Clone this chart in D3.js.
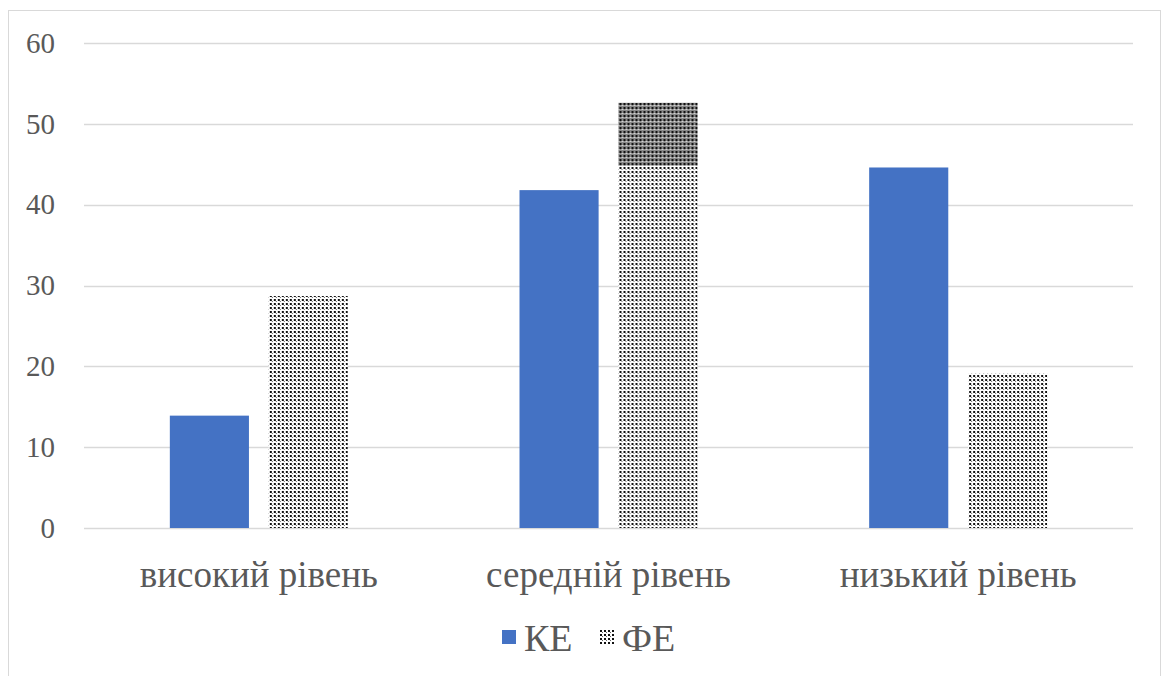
<!DOCTYPE html>
<html>
<head>
<meta charset="utf-8">
<script src="https://cdn.jsdelivr.net/npm/d3@7"></script>
<style>
  body { margin: 0; background: #fff; }
</style>
</head>
<body>
<div id="chart-area"></div>
<script>
// data
var categories = ["високий рівень", "середній рівень", "низький рівень"];
var seriesNames = ["КЕ", "ФЕ"];
var keValues = [13.9, 41.8, 44.6];
var feValues = [28.7, 52.6, 19.1];
// darker overprinted part of the ФЕ bar starts at this value
var feDarkFrom = [null, 44.8, null];
var yTicks = [0, 10, 20, 30, 40, 50, 60];

var textColor = "#595959";

var width = 1163;
var height = 676;
var margin = { left: 84, right: 30, top: 43, bottom: 148 };
var innerW = width - margin.left - margin.right;
var innerH = height - margin.top - margin.bottom;

var svg = d3.select("#chart-area").append("svg")
    .attr("width", width)
    .attr("height", height)
    .attr("font-family", "Liberation Serif");

// patterns
var defs = svg.append("defs");
var dots = defs.append("pattern")
    .attr("id", "dots")
    .attr("patternUnits", "userSpaceOnUse")
    .attr("width", 4).attr("height", 4);
dots.append("rect").attr("width", 4).attr("height", 4).attr("fill", "#fff");
dots.append("rect").attr("x", 0).attr("y", 0).attr("width", 2).attr("height", 2).attr("fill", "#111");
dots.append("rect").attr("x", 2).attr("y", 2).attr("width", 1).attr("height", 1).attr("fill", "#666");

var darkDots = defs.append("pattern")
    .attr("id", "darkdots")
    .attr("patternUnits", "userSpaceOnUse")
    .attr("width", 4).attr("height", 4);
darkDots.append("rect").attr("width", 4).attr("height", 4).attr("fill", "#8a8a8a");
darkDots.append("rect").attr("x", 0).attr("y", 0).attr("width", 2).attr("height", 2).attr("fill", "#111");
darkDots.append("rect").attr("x", 2).attr("y", 2).attr("width", 2).attr("height", 1).attr("fill", "#d0d0d0");

// outer frame
svg.append("rect")
    .attr("x", 8.5).attr("y", 10.5)
    .attr("width", 1152).attr("height", 680)
    .attr("fill", "none")
    .attr("stroke", "#d9d9d9");

var g = svg.append("g")
    .attr("transform", "translate(" + margin.left + ", " + margin.top + ")");

var x0 = d3.scaleBand()
    .domain(categories)
    .range([0, innerW]);

var x1 = d3.scaleBand()
    .domain(seriesNames)
    .range([0, 178])
    .paddingInner(0.2);

var y = d3.scaleLinear()
    .domain([0, 60])
    .range([innerH, 0]);

var color = d3.scaleOrdinal()
    .domain(seriesNames)
    .range(["#4472c4", "url(#dots)"]);

// grid lines
g.append("g")
    .selectAll("line")
    .data(yTicks)
    .enter().append("line")
        .attr("x1", 0)
        .attr("x2", innerW)
        .attr("y1", (d) => Math.round(y(d)) + 0.5)
        .attr("y2", (d) => Math.round(y(d)) + 0.5)
        .attr("stroke", "#d9d9d9")
        .attr("stroke-width", 1.5);

// y Axis
var yAxisCall = d3.axisLeft(y)
    .tickValues(yTicks)
    .tickSize(0)
    .tickPadding(29);
var yAxis = g.append("g")
    .attr("class", "y axis")
    .call(yAxisCall)
    .attr("font-family", "Liberation Serif")
    .attr("font-size", 29);
yAxis.select(".domain").remove();
yAxis.selectAll("text")
    .attr("fill", textColor);

// x Axis labels
var xAxisCall = d3.axisBottom(x0).tickSize(0).tickPadding(0);
var xAxis = g.append("g")
    .attr("class", "x axis")
    .attr("transform", "translate(0, " + innerH + ")")
    .call(xAxisCall)
    .attr("font-family", "Liberation Serif")
    .attr("font-size", 37);
xAxis.select(".domain").remove();
xAxis.selectAll("text")
    .attr("fill", textColor)
    .attr("y", 59)
    .attr("dy", 0);

// bars
var rows = categories.map((c, i) => ({
    cat: c,
    values: [
        { key: "КЕ", value: keValues[i] },
        { key: "ФЕ", value: feValues[i], dark: feDarkFrom[i] }
    ]
}));

var groups = g.selectAll("g.group")
    .data(rows)
    .enter().append("g")
        .attr("class", "group")
        .attr("transform", (d) => "translate(" + (x0(d.cat) + (x0.bandwidth() - 178) / 2) + ",0)");

groups.selectAll("rect.bar")
    .data((d) => d.values)
    .enter().append("rect")
        .attr("class", "bar")
        .attr("x", (d) => x1(d.key))
        .attr("y", (d) => y(d.value))
        .attr("width", x1.bandwidth())
        .attr("height", (d) => innerH - y(d.value))
        .attr("fill", (d) => color(d.key));

groups.selectAll("rect.dark")
    .data((d) => d.values.filter((v) => v.dark != null))
    .enter().append("rect")
        .attr("class", "dark")
        .attr("x", (d) => x1(d.key))
        .attr("y", (d) => y(d.value))
        .attr("width", x1.bandwidth())
        .attr("height", (d) => y(d.dark) - y(d.value))
        .attr("fill", "url(#darkdots)");

// legend
var legend = svg.append("g")
    .attr("transform", "translate(502, 638)");
var legendX = [0, 98];
seriesNames.forEach((s, i) => {
    var item = legend.append("g").attr("transform", "translate(" + legendX[i] + ",0)");
    item.append("rect")
        .attr("x", 0).attr("y", -8)
        .attr("width", 14).attr("height", 14)
        .attr("fill", color(s));
    item.append("text")
        .attr("x", 22)
        .attr("y", 13)
        .attr("font-family", "Liberation Serif")
        .attr("font-size", 38)
        .attr("fill", textColor)
        .text(s);
});
</script>
</body>
</html>
